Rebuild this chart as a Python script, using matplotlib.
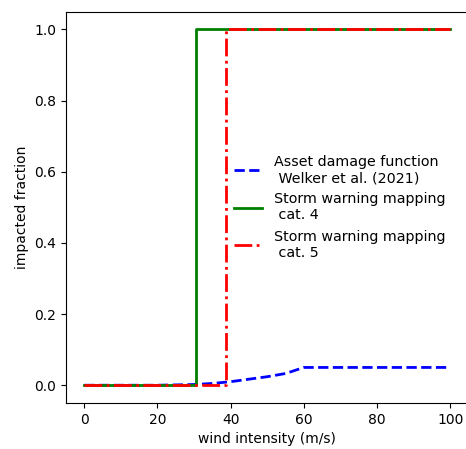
import matplotlib.pyplot as plt
import numpy as np

# asset damage function (Welker et al. 2021)
wind_dmg = [0, 20, 30, 35, 40, 45, 50, 55, 60, 65, 80, 100]
frac_dmg = [0, 0, 0.002, 0.005, 0.01, 0.017, 0.024, 0.033, 0.05, 0.05, 0.05, 0.05]

# storm warning mappings (step functions)
wind_cat4 = [0, 30.6, 30.6, 100]
frac_cat4 = [0, 0, 1, 1]
wind_cat5 = [0, 38.8, 38.8, 100]
frac_cat5 = [0, 0, 1, 1]

labels = ['Asset damage function\n Welker et al. (2021)',
          'Storm warning mapping\n cat. 4',
          'Storm warning mapping\n cat. 5']

fig = plt.figure(figsize=(4.66, 4.49), dpi=100)
ax = fig.add_subplot(111)
# figure is cropped on the right in the original, so the axes run past the edge
fig.subplots_adjust(left=0.1416, right=1.0056, top=0.974, bottom=0.1024)

ax.plot(wind_dmg, frac_dmg, c='blue', linestyle='--', lw=2, label=labels[0])
ax.plot(wind_cat4, frac_cat4, c='green', linestyle='-', lw=2, label=labels[1])
ax.plot(wind_cat5, frac_cat5, c='red', linestyle='-.', lw=2, label=labels[2])

ax.set_xlabel('wind intensity (m/s)')
ax.set_ylabel('impacted fraction')
ax.set_xticks(np.arange(0, 101, 20))
ax.set_yticks(np.arange(0, 1.01, 0.2))

ax.legend(loc='center left', bbox_to_anchor=(0.385, 0.5), frameon=False,
          fontsize=10.3)

plt.savefig('out.png')
